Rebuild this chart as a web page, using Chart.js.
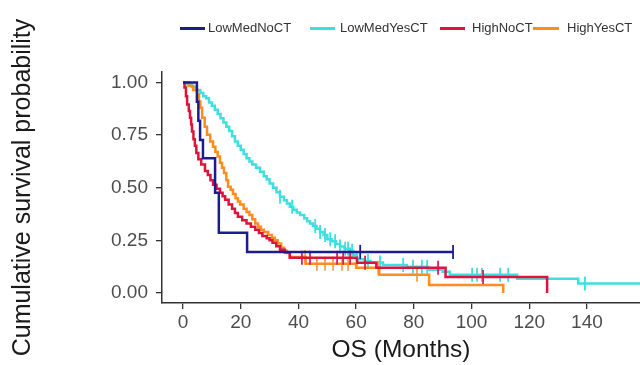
<!DOCTYPE html>
<html>
<head>
<meta charset="utf-8">
<script src="https://cdn.jsdelivr.net/npm/chart.js@4.4.1/dist/chart.umd.min.js"></script>
<style>
  body { margin: 0; background: #fff; }
  #wrap { position: relative; width: 640px; height: 365px; }
  canvas { position: absolute; left: 0; top: 0; }
  .lg { position: absolute; top: 20px; font: 13px "Liberation Sans", Arial, sans-serif; color: #333; white-space: nowrap; }
  .sw { position: absolute; height: 3px; top: 27px; }
</style>
</head>
<body>
<div id="wrap">
  <canvas id="km" width="640" height="365"></canvas>
  <div class="sw" style="left:180px;width:25px;background:#1c1c8f"></div>
  <div class="lg" style="left:208px">LowMedNoCT</div>
  <div class="sw" style="left:310px;width:25px;background:#3ddfe0"></div>
  <div class="lg" style="left:340px">LowMedYesCT</div>
  <div class="sw" style="left:440px;width:25px;background:#dc143c"></div>
  <div class="lg" style="left:472px">HighNoCT</div>
  <div class="sw" style="left:533px;width:26px;background:#ff8c21"></div>
  <div class="lg" style="left:567px">HighYesCT</div>
</div>
<script>
// Kaplan-Meier curves (months, survival)
const navyT = [0, 4.8, 5.3, 5.9, 6.9, 11.1, 12.4, 22.2, 93.6];
const navyS = [1.0, 0.909, 0.818, 0.727, 0.64, 0.476, 0.286, 0.195, 0.195];

const cyanT = [0, 1.5, 3, 4.5, 6, 7, 8, 9, 10, 11, 12, 13, 14, 15, 16, 17, 18, 19, 20, 21, 22, 23, 24, 25.3, 26.7,
  28, 29, 30, 31.2, 32.4, 33.6, 35, 36, 37, 38.2, 39.4, 40.6, 42, 43, 44, 45, 46.3, 47.5, 48.7, 50, 51.5, 53,
  54.4, 56, 57.9, 59, 60.3, 63, 65, 69.3, 77.6, 85, 90, 92.5, 115.8, 137, 158.4];
const cyanS = [1.0, 0.99, 0.98, 0.965, 0.95, 0.935, 0.925, 0.905, 0.89, 0.87, 0.85, 0.83, 0.81, 0.79, 0.77, 0.745,
  0.72, 0.70, 0.68, 0.66, 0.64, 0.625, 0.61, 0.595, 0.576, 0.555, 0.54, 0.52, 0.5, 0.478, 0.457, 0.44, 0.425, 0.41,
  0.395, 0.382, 0.37, 0.355, 0.34, 0.33, 0.318, 0.305, 0.29, 0.275, 0.255, 0.245, 0.232, 0.22, 0.21, 0.2, 0.18,
  0.16, 0.152, 0.145, 0.133, 0.124, 0.11, 0.1, 0.086, 0.067, 0.045, 0.045];

const redT = [0, 0.5, 1, 1.4, 2, 2.4, 2.8, 3.1, 3.6, 4.1, 4.6, 5.3, 6.3, 7.6, 8.6, 9.5, 10.4, 11.6, 12.8, 13.7, 14.6,
  15.8, 17, 18, 19, 20.5, 22, 23.5, 25, 26.3, 27.5, 29, 30, 31, 32.3, 33.6, 35.3, 37, 60.3, 67, 91, 126.2];
const redS = [1.0, 0.976, 0.935, 0.895, 0.865, 0.833, 0.8, 0.767, 0.73, 0.7, 0.665, 0.635, 0.61, 0.58, 0.56, 0.535,
  0.514, 0.495, 0.476, 0.46, 0.443, 0.42, 0.4, 0.38, 0.362, 0.345, 0.33, 0.315, 0.3, 0.285, 0.27, 0.26, 0.25, 0.238,
  0.222, 0.205, 0.192, 0.167, 0.143, 0.119, 0.076, 0];

const orangeT = [0, 2, 3.5, 4.9, 5.5, 6, 6.6, 7.5, 8.3, 9.4, 10.4, 11.2, 12, 12.8, 13.5, 14.2, 15, 15.6, 16.5, 17.3,
  18.2, 19, 19.8, 21, 22, 23, 24, 25, 26, 27, 28, 29.5, 30.8, 31.8, 32.8, 34, 35, 36, 37, 42.5, 60, 68, 85.3, 111];
const orangeS = [1.0, 0.985, 0.965, 0.943, 0.91, 0.88, 0.833, 0.79, 0.752, 0.72, 0.695, 0.67, 0.648, 0.619, 0.595,
  0.57, 0.535, 0.505, 0.49, 0.47, 0.45, 0.435, 0.42, 0.4, 0.385, 0.37, 0.35, 0.33, 0.314, 0.3, 0.29, 0.275, 0.262,
  0.25, 0.235, 0.215, 0.2, 0.19, 0.171, 0.138, 0.119, 0.086, 0.038, 0];

// censoring times (vertical tick marks)
const navyC = [61.4, 93.6];
const cyanC = [33.6, 37.8, 45.8, 47.5, 49.2, 51, 52.7, 54.4, 56.2, 57.2, 58.6, 60.3, 64.1, 68.3, 76.3, 79.7, 82.8,
  84.6, 100.2, 101.9, 103.6, 109.9, 112.7, 139.3];
const redC = [41.2, 44, 53.4, 55.5, 57.9, 63.1, 88.4, 104];
const orangeC = [42.3, 46.4, 49.2, 52, 55.1, 57.2, 67.6, 81.1];

const xTicks = [0, 20, 40, 60, 80, 100, 120, 140];
const yTicks = [0, 0.25, 0.5, 0.75, 1.0];

const NAVY = '#1c1c8f', CYAN = '#3ddfe0', RED = '#dc143c', ORANGE = '#ff8c21';

function pts(T, S) { return T.map((t, i) => ({ x: t, y: S[i] })); }
function survAt(T, S, t) {
  let s = S[0];
  for (let i = 0; i < T.length; i++) { if (T[i] <= t) s = S[i]; }
  return s;
}
function marks(C, T, S) { return C.map(t => ({ x: t, y: survAt(T, S, t) })); }

function curve(label, T, S, color, order) {
  return { type: 'line', label, data: pts(T, S), borderColor: color, borderWidth: 2.5, stepped: 'before',
    pointRadius: 0, fill: false, order };
}
function censor(C, T, S, color, order) {
  return { type: 'scatter', data: marks(C, T, S), pointStyle: 'line', rotation: 90, pointRadius: 7,
    borderColor: color, borderWidth: 1.8, backgroundColor: color, order };
}

const font = '"Liberation Sans", Arial, sans-serif';

new Chart(document.getElementById('km'), {
  data: {
    datasets: [
      curve('LowMedNoCT', navyT, navyS, NAVY, 1),
      censor(navyC, navyT, navyS, NAVY, 1),
      curve('HighNoCT', redT, redS, RED, 2),
      censor(redC, redT, redS, '#d8205e', 2),
      curve('HighYesCT', orangeT, orangeS, ORANGE, 3),
      censor(orangeC, orangeT, orangeS, '#ffa050', 3),
      curve('LowMedYesCT', cyanT, cyanS, CYAN, 4),
      censor(cyanC, cyanT, cyanS, CYAN, 4)
    ]
  },
  options: {
    responsive: false,
    animation: false,
    devicePixelRatio: 1,
    layout: { autoPadding: false, padding: { top: 72, left: 0, right: 0, bottom: 0 } },
    plugins: { legend: { display: false }, tooltip: { enabled: false } },
    scales: {
      x: {
        type: 'linear', min: -7.3, max: 158.4,
        afterBuildTicks: s => { s.ticks = xTicks.map(v => ({ value: v })); },
        afterFit: s => { s.height = 62; },
        grid: { drawOnChartArea: false, drawTicks: true, tickLength: 6, color: '#333', lineWidth: 1.3 },
        border: { color: '#333', width: 1.5 },
        ticks: { font: { family: font, size: 19 }, color: '#4d4d4d', padding: 2, maxRotation: 0 },
        title: { display: true, text: 'OS (Months)', font: { family: font, size: 24.5 }, color: '#1a1a1a',
          padding: { top: 0, bottom: 0 } }
      },
      y: {
        type: 'linear', min: -0.048, max: 1.05,
        afterBuildTicks: s => { s.ticks = yTicks.map(v => ({ value: v })); },
        afterFit: s => { s.width = 162; },
        grid: { drawOnChartArea: false, drawTicks: true, tickLength: 6, color: '#333', lineWidth: 1.3 },
        border: { color: '#333', width: 1.5 },
        ticks: { font: { family: font, size: 19 }, color: '#4d4d4d', padding: 8, callback: v => v.toFixed(2) },
        title: { display: true, text: 'Cumulative survival probability', font: { family: font, size: 25 },
          color: '#1a1a1a', padding: { top: 8, bottom: 0 } }
      }
    }
  }
});
</script>
</body>
</html>
